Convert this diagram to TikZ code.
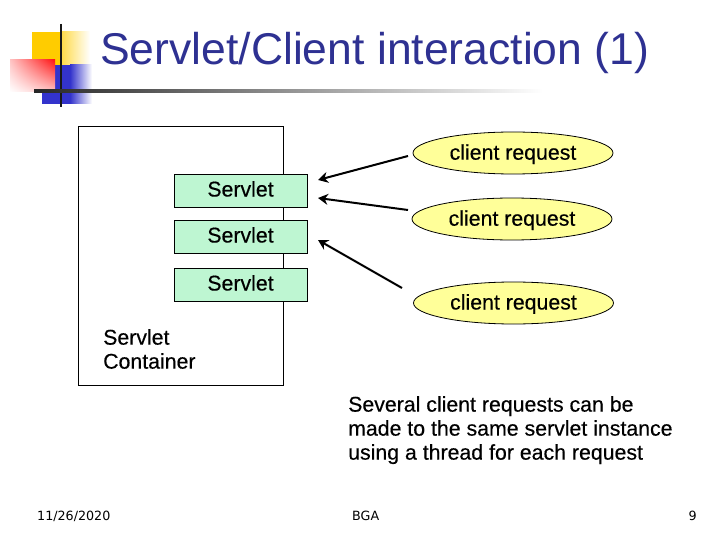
\documentclass[tikz,border=0pt]{standalone}
\usepackage{fontspec}
\setmainfont{Liberation Sans}
\newfontfamily\slidefoot{DejaVu Sans}
\newfontfamily\slidebody[FakeBold=0.35]{Liberation Sans}
\definecolor{titleblue}{RGB}{46,49,146}
\definecolor{boxgreen}{RGB}{190,246,210}
\definecolor{ellyellow}{RGB}{255,255,153}
\definecolor{logoyellow}{RGB}{255,204,0}
\definecolor{logoblue}{RGB}{51,51,204}
\definecolor{logored}{RGB}{255,20,20}
\usetikzlibrary{shapes.geometric,arrows.meta,shadings}
\newcommand{\basedrop}[2]{\raisebox{-#1}[10pt][10pt]{#2}}
\tikzset{
  servletbox/.style={draw=black,fill=boxgreen,line width=0.9pt,minimum width=133pt,minimum height=33pt,inner sep=0pt,font=\slidebody\fontsize{21.3}{24}\selectfont},
  reqell/.style={draw=black,fill=ellyellow,line width=0.8pt,ellipse,minimum width=200pt,minimum height=42pt,inner sep=0pt,font=\slidebody\fontsize{21.3}{24}\selectfont},
  bodytext/.style={inner sep=0pt,anchor=north west,align=left,font=\slidebody\fontsize{21.3}{24}\selectfont},
  footertext/.style={inner sep=0pt,font=\slidefoot\fontsize{12.7}{14}\selectfont},
  flow/.style={line width=2pt,-{Stealth[length=10pt,width=11pt]}},
}
\begin{document}
\begin{tikzpicture}[x=1pt,y=-1pt]
\useasboundingbox (0,0) rectangle (720,540);
\fill[white] (0,0) rectangle (720,540);
% logo
\fill[logoyellow] (32,32) rectangle (62,65);
\shade[left color=logoyellow!70!white,right color=white] (62,32) rectangle (90,65);
\fill[logoblue] (42,65) rectangle (70,104);
\shade[left color=logoblue,right color=white] (70,65) rectangle (92,104);
\shade[lower left=white,upper right=logored,upper left=logored!25!white,lower right=logored!25!white] (10,60) rectangle (55,92);
\draw[line width=2.5pt,black!90] (61,24) -- (61,107);
\shade[left color=black!85,right color=white] (34,89.8) rectangle (543,92.2);
% title
\node[inner sep=0pt,anchor=base west,text=titleblue,font=\fontsize{44.5}{50}\selectfont] (title) at (100,64.5) {Servlet/Client interaction (1)};
% container
\node[draw=black,line width=0.9pt,minimum width=205pt,minimum height=259pt,inner sep=0pt] (container) at (180.5,255.5) {};
\node[servletbox] (s1) at (240.5,190.5) {\basedrop{6pt}{Servlet}};
\node[servletbox] (s2) at (240.5,236.5) {\basedrop{6pt}{Servlet}};
\node[servletbox] (s3) at (240.5,284.5) {\basedrop{6pt}{Servlet}};
\node[bodytext] (clabel) at (103,329) {Servlet\\Container};
% requests
\node[reqell] (r1) at (513,153) {\basedrop{6.7pt}{client request}};
\node[reqell] (r2) at (512,219) {\basedrop{6.7pt}{client request}};
\node[reqell] (r3) at (513.5,303) {\basedrop{6.5pt}{client request}};
% arrows
\coordinate (a1s) at (408,156);\coordinate (a1e) at (318,180);
\coordinate (a2s) at (408,210);\coordinate (a2e) at (318,198);
\coordinate (a3s) at (402,288);\coordinate (a3e) at (318,240);
\draw[flow] (a1s) -- (a1e);
\draw[flow] (a2s) -- (a2e);
\draw[flow] (a3s) -- (a3e);
% note
\node[bodytext] (note) at (348,396) {Several client requests can be\\made to the same servlet instance\\using a thread for each request};
% footer
\node[footertext,anchor=base west] (date) at (37,520) {11/26/2020};
\node[footertext,anchor=base west] (bga) at (352,520) {BGA};
\node[footertext,anchor=base east] (page) at (697,520) {9};
\end{tikzpicture}
\end{document}
